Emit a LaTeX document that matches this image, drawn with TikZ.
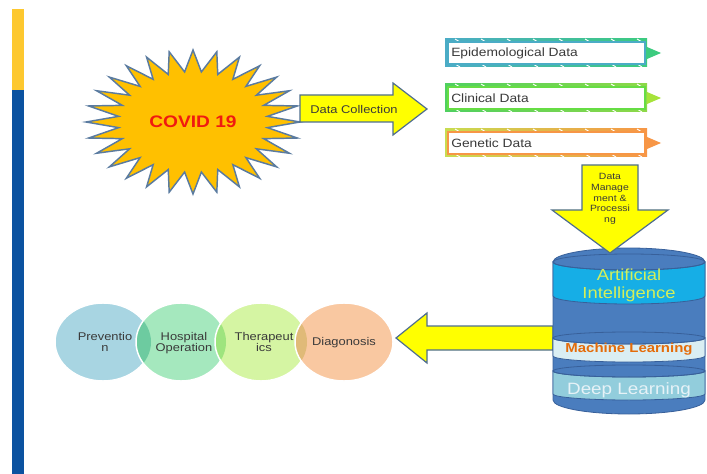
\documentclass[tikz,border=0pt]{standalone}
\usepackage{fontspec}
\setmainfont{Liberation Sans}
\usepackage{graphicx}
\newcommand{\sx}[1]{\scalebox{1.15}[1]{#1}}
\definecolor{baryellow}{HTML}{FDC82F}
\definecolor{barblue}{HTML}{0B52A0}
\definecolor{sunfill}{HTML}{FFC000}
\definecolor{sunedge}{HTML}{5A7BA0}
\definecolor{covidred}{HTML}{F01A10}
\definecolor{arrowyellow}{HTML}{FFFF00}
\definecolor{arrowedge}{HTML}{4F6E8F}
\definecolor{txtgrey}{HTML}{3A3A3A}
\definecolor{epiL}{HTML}{4BACC6}
\definecolor{epiR}{HTML}{3CCB7F}
\definecolor{epiB}{HTML}{4BACC6}
\definecolor{epiT}{HTML}{3CCB7F}
\definecolor{cliL}{HTML}{4FD060}
\definecolor{cliR}{HTML}{8ED848}
\definecolor{cliB}{HTML}{66DD44}
\definecolor{cliT}{HTML}{A6E33A}
\definecolor{genL}{HTML}{C8DC50}
\definecolor{genR}{HTML}{F79646}
\definecolor{genB}{HTML}{F79646}
\definecolor{genT}{HTML}{F79646}
\definecolor{cylbody}{HTML}{4A7DBE}
\definecolor{cyledge}{HTML}{38609A}
\definecolor{aicyan}{HTML}{16AEE6}
\definecolor{aitext}{HTML}{D4EF5A}
\definecolor{mlfill}{HTML}{DAEEF3}
\definecolor{mltext}{HTML}{E46C0A}
\definecolor{dlfill}{HTML}{92CDDC}
\definecolor{dltext}{HTML}{E6F2F7}
\definecolor{cP}{HTML}{A8D5E2}
\definecolor{cH}{HTML}{A5E8BE}
\definecolor{cT}{HTML}{D5F5A3}
\definecolor{cD}{HTML}{F9C8A1}
\definecolor{cPH}{HTML}{6DCBA0}
\definecolor{cHT}{HTML}{9EE47E}
\definecolor{cTD}{HTML}{E0BA78}
\begin{document}
\begin{tikzpicture}[x=0.75pt,y=-0.75pt,
  blockarrow/.style={fill=arrowyellow, draw=arrowedge, line width=0.9pt, line join=miter},
  boxtext/.style={text=txtgrey, font=\fontsize{9}{10}\selectfont, inner sep=0pt},
  circtext/.style={text=txtgrey, font=\fontsize{8.4}{8.8}\selectfont, align=center, inner sep=0pt},
  cyledgestyle/.style={draw=cyledge, line width=0.6pt}]
\useasboundingbox (0,0) rectangle (707,474);
% left bar
\fill[baryellow] (12,9) rectangle (24,90);
\fill[barblue] (12,90) rectangle (24,474);
% starburst
\path[fill=sunfill, draw=sunedge, line width=1.1pt, line join=miter]
  (300,122) \foreach \i in {1,...,55}{ -- ({193+107*(1-0.3*mod(\i,2))*cos(\i*6.428571)},{122+72*(1-0.3*mod(\i,2))*sin(\i*6.428571)}) } -- cycle;
\node[text=covidred, font=\bfseries\fontsize{12.5}{14}\selectfont, inner sep=0pt] (covid) at (193,122) {\sx{COVID 19}};
% data collection arrow
\draw[blockarrow] (300,95) -- (393,95) -- (393,83) -- (427,109) -- (393,135) -- (393,122) -- (300,122) -- cycle;
\node[boxtext, font=\fontsize{8.4}{10}\selectfont] (dc) at (354,109) {\sx{Data Collection}};
% data boxes
\foreach \yc/\cl/\cr/\cb/\ct/\txt/\nm in {53/epiL/epiR/epiB/epiT/Epidemological Data/epi, 98/cliL/cliR/cliB/cliT/Clinical Data/clin, 143/genL/genR/genB/genT/Genetic Data/gen}{
  \shade[left color=\cl, right color=\cr] (445,{\yc-14}) rectangle (647,{\yc+14});
  \foreach \k in {0,...,7}{
    \draw[white, line width=0.7pt] ({455+26*\k},{\yc-14}) -- ++(5,3);
    \draw[white, line width=0.7pt] ({455+26*\k},{\yc+11}) -- ++(5,3);
  }
  \draw[\cb, fill=white, line width=1pt] (448,{\yc-11}) rectangle (645,{\yc+11});
  \fill[\ct] (647,{\yc-6}) -- (661,\yc) -- (647,{\yc+6}) -- cycle;
  \node[boxtext, anchor=west] (\nm) at (451,\yc) {\sx{\txt}};
}
% left arrow
\draw[blockarrow] (553,326) -- (427,326) -- (427,313) -- (396,338) -- (427,363) -- (427,350) -- (553,350) -- cycle;
% cylinder
\path[fill=cylbody, cyledgestyle] (553,262) -- (553,400) arc[start angle=180, end angle=0, x radius=76, y radius=14] -- (705,262) arc[start angle=0, end angle=-180, x radius=76, y radius=14] -- cycle;
\path[fill=aicyan, cyledgestyle] (553,262) -- (553,296) arc[start angle=180, end angle=0, x radius=76, y radius=8] -- (705,262) arc[start angle=0, end angle=180, x radius=76, y radius=8] -- cycle;
\draw[cyledgestyle] (629,262) ellipse[x radius=76, y radius=8];
\path[fill=mlfill, cyledgestyle] (553,338) -- (553,356) arc[start angle=180, end angle=0, x radius=76, y radius=6] -- (705,338) arc[start angle=0, end angle=180, x radius=76, y radius=6] -- cycle;
\draw[cyledgestyle] (629,338) ellipse[x radius=76, y radius=6];
\path[fill=dlfill, cyledgestyle] (553,371) -- (553,394) arc[start angle=180, end angle=0, x radius=76, y radius=6] -- (705,371) arc[start angle=0, end angle=180, x radius=76, y radius=6] -- cycle;
\draw[cyledgestyle] (629,371) ellipse[x radius=76, y radius=6];
\node[text=aitext, font=\fontsize{12}{14}\selectfont, inner sep=0pt] (ai1) at (629,275) {\sx{Artificial}};
\node[text=aitext, font=\fontsize{12}{14}\selectfont, inner sep=0pt] (ai2) at (629,294) {\sx{Intelligence}};
\node[text=mltext, font=\bfseries\fontsize{9.75}{11}\selectfont, inner sep=0pt] (ml) at (629,349) {\sx{Machine Learning}};
\node[text=dltext, font=\fontsize{12.3}{14}\selectfont, inner sep=0pt] (dl) at (629,390) {\sx{Deep Learning}};
% down arrow
\draw[blockarrow] (582,165) -- (638,165) -- (638,210) -- (668,210) -- (610,253) -- (552,210) -- (582,210) -- cycle;
\node[text=txtgrey, font=\fontsize{6.8}{8}\selectfont, align=center, inner sep=0pt] (dm) at (610,199) {\sx{Data}\\\sx{Manage}\\\sx{ment \&}\\\sx{Processi}\\\sx{ng}};
% circles
\fill[cP] (103,342) ellipse[x radius=48, y radius=39];
\draw[white, line width=1.1pt] (103,342) ellipse[x radius=48, y radius=39];
\fill[cH] (181,342) ellipse[x radius=45, y radius=39];
\begin{scope}\clip (103,342) ellipse[x radius=48, y radius=39];
\fill[cPH] (181,342) ellipse[x radius=45, y radius=39];\end{scope}
\draw[white, line width=1.1pt] (181,342) ellipse[x radius=45, y radius=39];
\fill[cT] (261,342) ellipse[x radius=46, y radius=39];
\begin{scope}\clip (181,342) ellipse[x radius=45, y radius=39];
\fill[cHT] (261,342) ellipse[x radius=46, y radius=39];\end{scope}
\draw[white, line width=1.1pt] (261,342) ellipse[x radius=46, y radius=39];
\fill[cD] (344,342) ellipse[x radius=49, y radius=39];
\begin{scope}\clip (261,342) ellipse[x radius=46, y radius=39];
\fill[cTD] (344,342) ellipse[x radius=49, y radius=39];\end{scope}
\draw[white, line width=1.1pt] (344,342) ellipse[x radius=49, y radius=39];
\node[circtext] (prev) at (105,342) {\sx{Preventio}\\\sx{n}};
\node[circtext] (hosp) at (184,343) {\sx{Hospital}\\\sx{Operation}};
\node[circtext] (ther) at (264,342) {\sx{Therapeut}\\\sx{ics}};
\node[circtext] (diag) at (344,343) {\sx{Diagonosis}};
\end{tikzpicture}
\end{document}
